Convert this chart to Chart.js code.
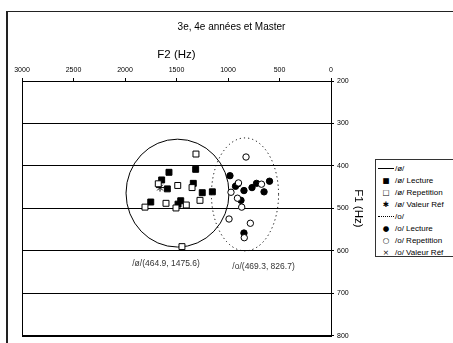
<!DOCTYPE html>
<html lang="fr">
<head>
<meta charset="utf-8">
<title>F1 / F2</title>
<script src="https://cdn.jsdelivr.net/npm/chart.js@4.4.1/dist/chart.umd.min.js"></script>
<style>
  html, body { margin: 0; padding: 0; background: #fff; overflow: hidden; }
  #wrap { position: relative; width: 453px; height: 343px; overflow: hidden; }
  #frame { position: absolute; left: 6px; top: 11px; width: 600px; height: 500px;
    border-left: 2px solid #222; border-top: 1px solid #222; }
  #chart { position: absolute; left: 0; top: 0; }
  #legend { position: absolute; left: 375px; top: 159px; width: 110px; height: 98px;
    box-sizing: border-box; border: 1px solid #333; background: #fff; padding-top: 2px;
    font-family: "Liberation Sans", Arial, sans-serif; font-size: 8px; color: #000; }
  .row { height: 12.1px; display: flex; align-items: center; white-space: nowrap; }
  .mark { width: 16px; margin-left: 2px; margin-right: 1px; display: flex;
    justify-content: center; align-items: center; font-family: "DejaVu Sans"; font-size: 7.5px; }
  .line { width: 16px; height: 0; border-top: 1px solid #000; }
  .line.dot { border-top-style: dotted; }
</style>
</head>
<body>
<div id="wrap">
  <div id="frame"></div>
  <canvas id="chart" width="463" height="343"></canvas>
  <div id="legend"></div>
</div>
<script>
const chartTitle = "3e, 4e années et Master";
const xTitle = "F2 (Hz)";
const yTitle = "F1 (Hz)";
const f2Ticks = [3000, 2500, 2000, 1500, 1000, 500, 0];
const f1Ticks = [200, 300, 400, 500, 600, 700, 800];

// /ø/ points (F2, F1)
const oeLectureF2 = [1573, 1314, 1644, 1589, 1337, 1250, 1152, 1750, 1459, 1485];
const oeLectureF1 = [415, 408, 433, 454, 441, 463, 461, 485, 482, 490];
const oeRepetitionF2 = [1311, 1677, 1488, 1349, 1272, 1806, 1602, 1405, 1505, 1447];
const oeRepetitionF1 = [372, 442, 446, 451, 481, 497, 488, 492, 499, 590];
const oeRefF2 = [1660];
const oeRefF1 = [451];

// /o/ points (F2, F1)
const oLectureF2 = [981, 927, 903, 845, 874, 767, 723, 650, 597, 845];
const oLectureF1 = [423, 448, 442, 458, 481, 451, 441, 461, 436, 558];
const oRepetitionF2 = [825, 898, 971, 908, 867, 675, 990, 783, 842];
const oRepetitionF1 = [379, 440, 462, 476, 497, 443, 525, 535, 569];
const oRefF2 = [];
const oRefF1 = [];

// dispersion ellipses
const ellipseNames = ["/ø/", "/o/"];
const ellipseF2 = [1490, 835];
const ellipseF1 = [464, 467];
const ellipseRadiusF2 = [500, 326];
const ellipseRadiusF1 = [127, 133];

// mean labels under the ellipses
const meanLabels = ["/ø/(464.9, 1475.6)", "/o/(469.3, 826.7)"];
const meanLabelF2 = [1602, 655];
const meanLabelF1 = [631, 637];

const fontFamily = "'Liberation Sans', Arial, sans-serif";

function toPoints(xs, ys) {
  return xs.map((x, i) => ({ x, y: ys[i] }));
}

function pointSet(label, xs, ys, style, filled) {
  return {
    label,
    data: toPoints(xs, ys),
    pointStyle: style,
    pointRadius: style === "rect" ? 4.2 : style === "star" ? 4 : 3.2,
    backgroundColor: filled ? "#000" : "#fff",
    borderColor: "#000",
    borderWidth: 1,
  };
}

const datasets = [
  pointSet("/ø/ Repetition", oeRepetitionF2, oeRepetitionF1, "rect", false),
  pointSet("/o/ Repetition", oRepetitionF2, oRepetitionF1, "circle", false),
  pointSet("/ø/ Lecture", oeLectureF2, oeLectureF1, "rect", true),
  pointSet("/o/ Lecture", oLectureF2, oLectureF1, "circle", true),
  pointSet("/ø/ Valeur Réf", oeRefF2, oeRefF1, "star", false),
  pointSet("/o/ Valeur Réf", oRefF2, oRefF1, "crossRot", false),
];

const ellipsePlugin = {
  id: "ellipses",
  beforeDatasetsDraw(chart) {
    const { ctx, chartArea, scales: { x, y } } = chart;
    ctx.save();
    // plot frame
    ctx.strokeStyle = "#000";
    ctx.lineWidth = 1;
    ctx.strokeRect(Math.round(chartArea.left) + 0.5, Math.round(chartArea.top) + 0.5,
      Math.round(chartArea.width), Math.round(chartArea.height));

    ellipseF2.forEach((cx, i) => {
      const px = x.getPixelForValue(cx);
      const py = y.getPixelForValue(ellipseF1[i]);
      const rx = Math.abs(x.getPixelForValue(cx + ellipseRadiusF2[i]) - px);
      const ry = Math.abs(y.getPixelForValue(ellipseF1[i] + ellipseRadiusF1[i]) - py);
      ctx.beginPath();
      ctx.setLineDash(i === 0 ? [] : [1.2, 3]);
      ctx.ellipse(px, py, rx, ry, 0, 0, Math.PI * 2);
      ctx.stroke();
    });
    ctx.restore();
  },
  afterDraw(chart) {
    const { ctx, scales: { x, y } } = chart;
    ctx.save();
    ctx.fillStyle = "#333";
    ctx.font = "8.5px " + fontFamily;
    ctx.textAlign = "center";
    ctx.textBaseline = "middle";
    meanLabels.forEach((txt, i) => {
      ctx.fillText(txt, x.getPixelForValue(meanLabelF2[i]), y.getPixelForValue(meanLabelF1[i]));
    });
    ctx.restore();
  },
};

const ctx = document.getElementById("chart").getContext("2d");
const chart = new Chart(ctx, {
  type: "scatter",
  data: { datasets },
  options: {
    responsive: false,
    animation: false,
    events: [],
    layout: { padding: { left: 22, right: 22, top: 0, bottom: 7 } },
    plugins: {
      legend: { display: false },
      tooltip: { enabled: false },
      title: {
        display: true,
        text: chartTitle,
        color: "#000",
        font: { family: fontFamily, size: 10, weight: "normal" },
        padding: { top: 21, bottom: 0 },
      },
    },
    scales: {
      x: {
        type: "linear",
        position: "top",
        reverse: true,
        min: 0,
        max: 3000,
        afterBuildTicks: (s) => { s.ticks = f2Ticks.map((v) => ({ value: v })); },
        afterFit: (s) => { s.height = 48; },
        ticks: { color: "#000", padding: 4, font: { family: fontFamily, size: 7 }, callback: (v) => String(v) },
        grid: { drawOnChartArea: false, drawTicks: true, tickLength: 3, color: "#000" },
        border: { display: true, color: "#000", width: 1 },
        title: {
          display: true,
          text: xTitle,
          color: "#000",
          font: { family: fontFamily, size: 11.5 },
          padding: { top: 15, bottom: 0 },
        },
      },
      y: {
        type: "linear",
        position: "right",
        reverse: true,
        min: 200,
        max: 800,
        afterBuildTicks: (s) => { s.ticks = f1Ticks.map((v) => ({ value: v })); },
        afterFit: (s) => { s.width = 110; },
        ticks: { color: "#000", padding: 3, font: { family: fontFamily, size: 7 }, callback: (v) => String(v) },
        grid: { drawOnChartArea: true, drawTicks: true, tickLength: 3, color: "#000", lineWidth: 1 },
        border: { display: true, color: "#000", width: 1 },
        title: {
          display: true,
          text: yTitle,
          color: "#000",
          font: { family: fontFamily, size: 11.5 },
          padding: { top: 76, bottom: 0 },
        },
      },
    },
  },
  plugins: [ellipsePlugin],
});

// HTML legend built from the ellipses and the point datasets
const symbolFor = { rect: ["■", "□"], circle: ["●", "○"], star: ["✱", "✱"], crossRot: ["×", "×"] };
const legendOrder = [
  { line: 0 },
  { set: "/ø/ Lecture" }, { set: "/ø/ Repetition" }, { set: "/ø/ Valeur Réf" },
  { line: 1 },
  { set: "/o/ Lecture" }, { set: "/o/ Repetition" }, { set: "/o/ Valeur Réf" },
];
const legend = document.getElementById("legend");
legendOrder.forEach((item) => {
  const row = document.createElement("div");
  row.className = "row";
  const mark = document.createElement("span");
  mark.className = "mark";
  let text;
  if (item.line !== undefined) {
    const ln = document.createElement("span");
    ln.className = item.line === 0 ? "line" : "line dot";
    mark.appendChild(ln);
    text = ellipseNames[item.line];
  } else {
    const ds = datasets.find((d) => d.label === item.set);
    const pair = symbolFor[ds.pointStyle];
    mark.textContent = ds.backgroundColor === "#000" ? pair[0] : pair[1];
    text = ds.label;
  }
  const label = document.createElement("span");
  label.textContent = text;
  row.appendChild(mark);
  row.appendChild(label);
  legend.appendChild(row);
});
</script>
</body>
</html>
